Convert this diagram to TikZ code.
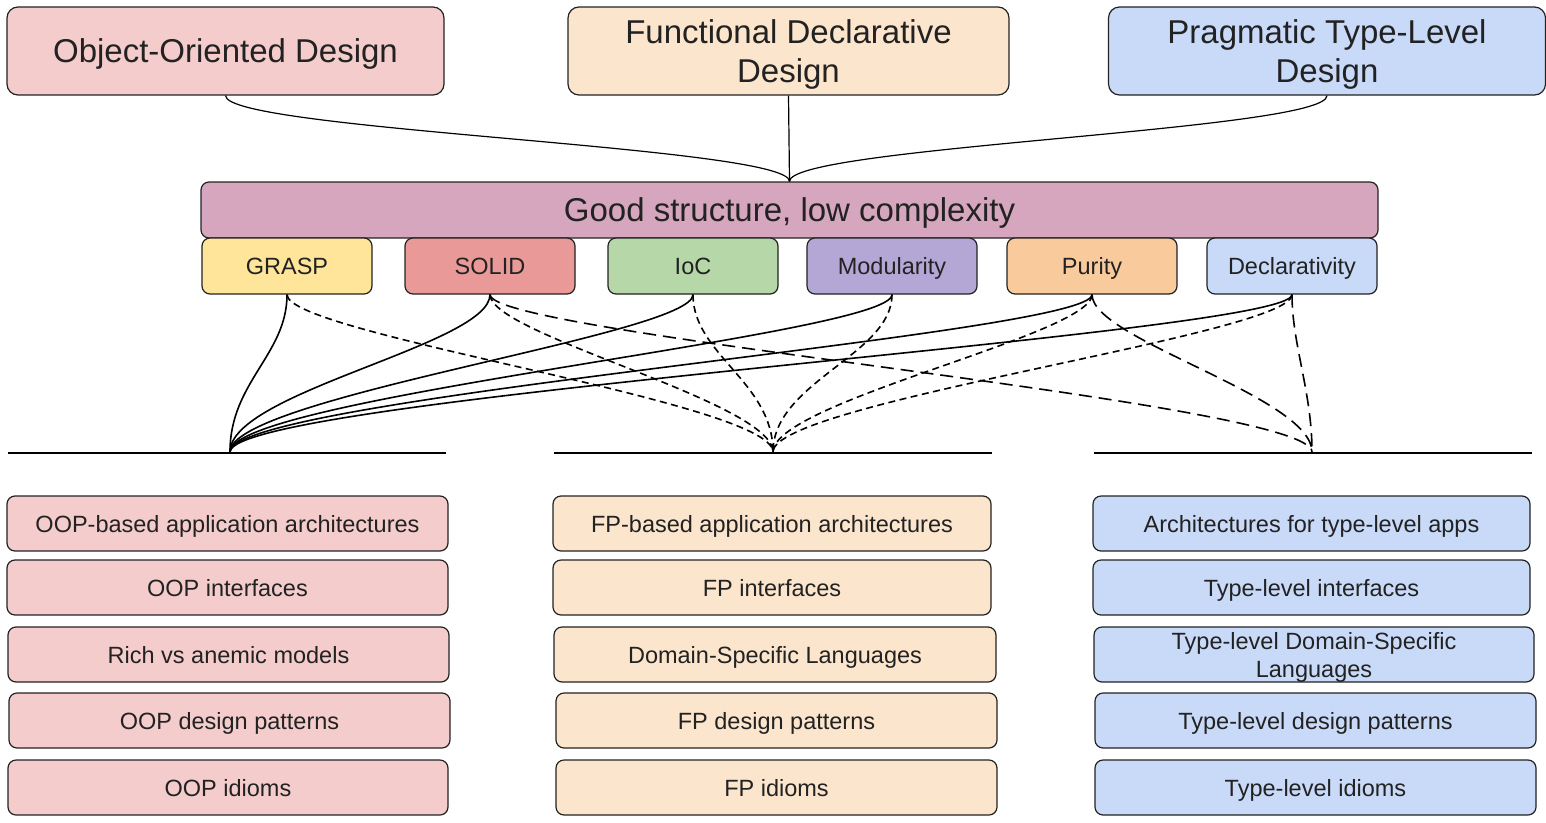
\documentclass[tikz,border=0pt]{standalone}
\usepackage{fontspec}
\setmainfont{Liberation Sans}
\usetikzlibrary{positioning}

\definecolor{oopred}{HTML}{F4CCCC}
\definecolor{fppeach}{HTML}{FCE5CD}
\definecolor{tlblue}{HTML}{C9DAF8}
\definecolor{goalpink}{HTML}{D5A6BD}
\definecolor{graspyellow}{HTML}{FFE599}
\definecolor{solidred}{HTML}{EA9999}
\definecolor{iocgreen}{HTML}{B6D7A8}
\definecolor{modpurple}{HTML}{B4A7D6}
\definecolor{purityorange}{HTML}{F9CB9C}
\definecolor{inktext}{HTML}{222222}

\begin{document}
\begin{tikzpicture}[x=1pt, y=-1pt,
  design/.style={draw=inktext, line width=1.2pt, rounded corners=11pt, minimum width=437pt, minimum height=88pt, inner sep=0pt, text depth=0pt, align=center, text=inktext, font=\fontsize{33}{39}\selectfont},
  goal/.style={draw=inktext, line width=1.2pt, rounded corners=8pt, fill=goalpink, minimum width=1177pt, minimum height=56pt, inner sep=0pt, text depth=0pt, text=inktext, font=\fontsize{33}{39}\selectfont},
  principle/.style={draw=inktext, line width=1.2pt, rounded corners=8pt, minimum width=170pt, minimum height=56pt, inner sep=0pt, text depth=0pt, text=inktext, font=\fontsize{23.5}{28}\selectfont},
  topic/.style={draw=inktext, line width=1.2pt, rounded corners=8pt, minimum width=440pt, minimum height=55pt, inner sep=0pt, text depth=0pt, align=center, text=inktext, font=\fontsize{23.5}{28}\selectfont},
  link/.style={line width=1.6pt},
  shortdash/.style={line width=1.6pt, dash pattern=on 7pt off 4.5pt},
  longdash/.style={line width=1.6pt, dash pattern=on 13pt off 7pt}]
\useasboundingbox (0,0) rectangle (1546,822);

% three design styles
\node[design, fill=oopred] (ood) at (225.5,51) {Object-Oriented Design};
\node[design, fill=fppeach, minimum width=441pt] (fdd) at (788.5,51) {Functional Declarative\\Design};
\node[design, fill=tlblue] (ptd) at (1327,51) {Pragmatic Type-Level\\Design};

% common goal and principles
\node[goal] (good) at (789.5,210) {Good structure, low complexity};
\node[principle, fill=graspyellow] (grasp) at (287,266) {GRASP};
\node[principle, fill=solidred] (solid) at (490,266) {SOLID};
\node[principle, fill=iocgreen] (ioc) at (693,266) {IoC};
\node[principle, fill=modpurple] (modul) at (892,266) {Modularity};
\node[principle, fill=purityorange] (purity) at (1092,266) {Purity};
\node[principle, fill=tlblue] (decl) at (1292,266) {Declarativity};

\draw[link, line width=1.2pt] (ood.south) .. controls +(0,35) and +(0,-35) .. (good.north);
\draw[link, line width=1.2pt] (fdd.south) -- (good.north);
\draw[link, line width=1.2pt] (ptd.south) .. controls +(0,35) and +(0,-35) .. (good.north);

% shelves
\coordinate (oopl) at (8,453); \coordinate (oopr) at (446,453);
\coordinate (fpl) at (554,453); \coordinate (fpr) at (992,453);
\coordinate (tll) at (1094,453); \coordinate (tlr) at (1532,453);
\draw[link] (oopl) -- (oopr); \draw[link] (fpl) -- (fpr); \draw[link] (tll) -- (tlr);
\coordinate (oopend) at (230,452);
\coordinate (fpend) at (773,452);
\coordinate (tlend) at (1312,452);

% principles to the OOP shelf
\draw[link] (grasp.south) .. controls +(0,60) and +(0,-70) .. (oopend);
\draw[link] (solid.south) .. controls +(0,50) and +(0,-60) .. (oopend);
\draw[link] (ioc.south) .. controls +(0,40) and +(0,-55) .. (oopend);
\draw[link] (modul.south) .. controls +(0,40) and +(0,-55) .. (oopend);
\draw[link] (purity.south) .. controls +(0,40) and +(0,-55) .. (oopend);
\draw[link] (decl.south) .. controls +(0,40) and +(0,-55) .. (oopend);

% principles to the FP shelf
\draw[shortdash] (grasp.south) .. controls +(0,40) and +(0,-50) .. (fpend);
\draw[shortdash] (solid.south) .. controls +(0,40) and +(0,-50) .. (fpend);
\draw[shortdash] (ioc.south) .. controls +(0,60) and +(0,-70) .. (fpend);
\draw[shortdash] (modul.south) .. controls +(0,60) and +(0,-70) .. (fpend);
\draw[shortdash] (purity.south) .. controls +(0,40) and +(0,-50) .. (fpend);
\draw[shortdash] (decl.south) .. controls +(0,40) and +(0,-50) .. (fpend);

% principles to the type-level shelf
\draw[longdash] (solid.south) .. controls +(0,40) and +(0,-50) .. (tlend);
\draw[longdash] (purity.south) .. controls +(0,45) and +(0,-55) .. (tlend);
\draw[longdash] (decl.south) .. controls +(0,50) and +(0,-60) .. (tlend);

% OOP topics
\node[topic, fill=oopred, minimum width=441pt] (oop1) at (227.5,523.5) {OOP-based application architectures};
\node[topic, fill=oopred, minimum width=441pt] (oop2) at (227.5,587.5) {OOP interfaces};
\node[topic, fill=oopred, minimum width=441pt] (oop3) at (228.5,654.5) {Rich vs anemic models};
\node[topic, fill=oopred, minimum width=441pt] (oop4) at (229.5,720.5) {OOP design patterns};
\node[topic, fill=oopred, minimum width=440pt] (oop5) at (228,787.5) {OOP idioms};

% FP topics
\node[topic, fill=fppeach, minimum width=438pt] (fp1) at (772,523.5) {FP-based application architectures};
\node[topic, fill=fppeach, minimum width=438pt] (fp2) at (772,587.5) {FP interfaces};
\node[topic, fill=fppeach, minimum width=442pt] (fp3) at (775,654.5) {Domain-Specific Languages};
\node[topic, fill=fppeach, minimum width=441pt] (fp4) at (776.5,720.5) {FP design patterns};
\node[topic, fill=fppeach, minimum width=441pt] (fp5) at (776.5,787.5) {FP idioms};

% type-level topics
\node[topic, fill=tlblue, minimum width=437pt] (tl1) at (1311.5,523.5) {Architectures for type-level apps};
\node[topic, fill=tlblue, minimum width=437pt] (tl2) at (1311.5,587.5) {Type-level interfaces};
\node[topic, fill=tlblue, minimum width=440pt] (tl3) at (1314,654.5) {Type-level Domain-Specific\\Languages};
\node[topic, fill=tlblue, minimum width=441pt] (tl4) at (1315.5,720.5) {Type-level design patterns};
\node[topic, fill=tlblue, minimum width=441pt] (tl5) at (1315.5,787.5) {Type-level idioms};
\end{tikzpicture}
\end{document}
